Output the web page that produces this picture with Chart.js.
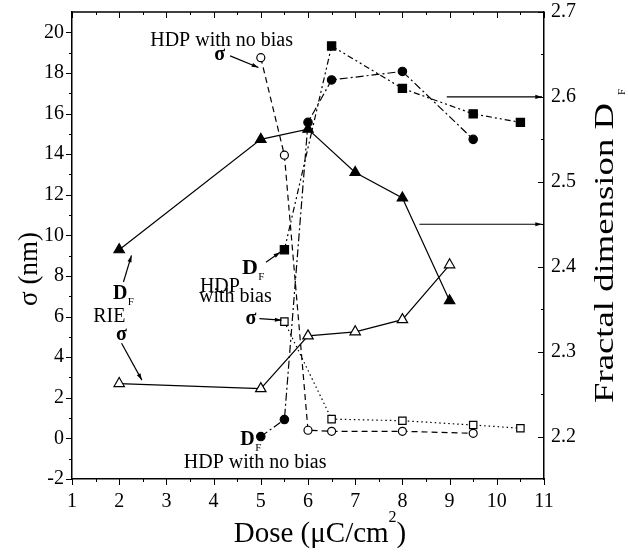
<!DOCTYPE html>
<html>
<head>
<meta charset="utf-8">
<script src="https://cdn.jsdelivr.net/npm/chart.js@4.4.0/dist/chart.umd.min.js"></script>
<style>
  body { margin: 0; background: #fff; }
  #wrap { width: 628px; height: 553px; }
</style>
</head>
<body>
<div id="wrap"><canvas id="chart"></canvas></div>
<script>
// RIE
const DOSE_RIE = [2, 5, 6, 7, 8, 9];
const RIE_SIGMA = [2.7, 2.45, 5.05, 5.25, 5.85, 8.55];
const RIE_DF = [2.42, 2.55, 2.562, 2.511, 2.481, 2.36];

// HDP with no bias
const DOSE_NOBIAS = [5, 5.5, 6, 6.5, 8, 9.5];
const NOBIAS_SIGMA = [18.75, 13.95, 0.4, 0.35, 0.35, 0.25];
const NOBIAS_DF = [2.2, 2.22, 2.57, 2.62, 2.63, 2.55];

// HDP with bias
const DOSE_BIAS = [5.5, 6.5, 8, 9.5, 10.5];
const BIAS_SIGMA = [5.75, 0.95, 0.87, 0.66, 0.5];
const BIAS_DF = [2.42, 2.66, 2.61, 2.58, 2.57];

// tick labels
const X_TICKS = [1, 2, 3, 4, 5, 6, 7, 8, 9, 10, 11];
const SIGMA_TICKS = [-2, 0, 2, 4, 6, 8, 10, 12, 14, 16, 18, 20];
const DF_TICKS = [2.2, 2.3, 2.4, 2.5, 2.6, 2.7];

const SERIF = '"Liberation Serif", "Times New Roman", serif';

function pts(xs, ys) {
  return xs.map((x, i) => ({ x: x, y: ys[i] }));
}

function line(label, xs, ys, axis, shape, filled, radius, dash) {
  return {
    label: label,
    data: pts(xs, ys),
    yAxisID: axis,
    borderColor: '#000',
    borderWidth: 1.2,
    borderDash: dash,
    pointStyle: shape,
    pointRadius: radius,
    pointBorderWidth: 1.2,
    pointBackgroundColor: filled ? '#000' : '#fff',
    pointBorderColor: '#000',
    tension: 0
  };
}

function arrow(ctx, x1, y1, x2, y2) {
  ctx.beginPath();
  ctx.moveTo(x1, y1);
  ctx.lineTo(x2, y2);
  ctx.stroke();
  const ang = Math.atan2(y2 - y1, x2 - x1);
  const h = 7;
  ctx.beginPath();
  ctx.moveTo(x2, y2);
  ctx.lineTo(x2 - h * Math.cos(ang - 0.3), y2 - h * Math.sin(ang - 0.3));
  ctx.lineTo(x2 - h * Math.cos(ang + 0.3), y2 - h * Math.sin(ang + 0.3));
  ctx.closePath();
  ctx.fill();
}

// D with subscript F, centred on (cx, baseline)
function dF(ctx, cx, base, size) {
  ctx.font = 'bold ' + size + 'px ' + SERIF;
  ctx.textAlign = 'center';
  ctx.fillText('D', cx, base);
  ctx.font = '11px ' + SERIF;
  ctx.textAlign = 'left';
  ctx.fillText('F', cx + size * 0.38, base + 6);
}

// no extra top/bottom room for the end labels of the y axes
function fixY(width) {
  return s => {
    s.width = width;
    s.paddingTop = 0;
    s.paddingBottom = 0;
  };
}

const decor = {
  id: 'decor',
  afterDraw(chart) {
    const ctx = chart.ctx;
    const a = chart.chartArea;
    const x = chart.scales.x, y = chart.scales.y, y1 = chart.scales.y1;
    const px = v => x.getPixelForValue(v);
    const py = v => y.getPixelForValue(v);
    const pr = v => y1.getPixelForValue(v);

    ctx.save();
    ctx.strokeStyle = '#000';
    ctx.fillStyle = '#000';

    // frame top
    ctx.lineWidth = 1.5;
    ctx.beginPath();
    ctx.moveTo(a.left, a.top);
    ctx.lineTo(a.right, a.top);
    ctx.stroke();

    // ticks
    ctx.lineWidth = 1;
    ctx.beginPath();
    for (let v = 1; v <= 11.001; v += 0.5) {
      const len = Math.abs(v - Math.round(v)) < 0.01 ? 6 : 3;
      const xx = Math.round(px(v)) + 0.5;
      ctx.moveTo(xx, a.bottom); ctx.lineTo(xx, a.bottom + len);
      ctx.moveTo(xx, a.top); ctx.lineTo(xx, a.top + len);
    }
    for (let v = -2; v <= 20; v += 1) {
      const len = v % 2 === 0 ? 6 : 3;
      const yy = Math.round(py(v)) + 0.5;
      ctx.moveTo(a.left, yy); ctx.lineTo(a.left - len, yy);
    }
    for (let k = 44; k <= 54; k++) {
      const v = k / 20;
      const len = k % 2 === 0 ? 6 : 3;
      const yy = Math.round(pr(v)) + 0.5;
      ctx.moveTo(a.right, yy); ctx.lineTo(a.right - len, yy);
    }
    ctx.stroke();

    // arrows to the right axis
    ctx.lineWidth = 1.2;
    arrow(ctx, px(8.94), pr(2.6), a.right - 2, pr(2.6));
    arrow(ctx, px(8.36), pr(2.45), a.right - 2, pr(2.45));

    // HDP with no bias (top)
    ctx.textBaseline = 'alphabetic';
    ctx.font = '20px ' + SERIF;
    ctx.textAlign = 'center';
    ctx.fillText('HDP with no bias', px(4.17), py(19.33));
    ctx.font = 'bold 20px ' + SERIF;
    ctx.fillText('σ', px(4.13), py(18.65));
    arrow(ctx, px(4.35), py(18.84), px(4.95), py(18.27));

    // HDP with bias
    dF(ctx, px(4.77), py(8.1), 22);
    arrow(ctx, px(5.11), py(8.68), px(5.41), py(9.17));
    ctx.font = '20px ' + SERIF;
    ctx.textAlign = 'left';
    ctx.fillText('HDP', px(3.71), py(7.21));
    ctx.fillText('with bias', px(3.69), py(6.7));
    ctx.font = 'bold 20px ' + SERIF;
    ctx.textAlign = 'center';
    ctx.fillText('σ', px(4.79), py(5.65));
    arrow(ctx, px(4.97), py(5.9), px(5.44), py(5.82));

    // RIE
    dF(ctx, px(2.02), py(6.85), 20);
    arrow(ctx, px(2.09), py(7.7), px(2.26), py(9.01));
    ctx.font = '20px ' + SERIF;
    ctx.textAlign = 'center';
    ctx.fillText('RIE', px(1.79), py(5.73));
    ctx.font = 'bold 20px ' + SERIF;
    ctx.fillText('σ', px(2.05), py(4.85));
    arrow(ctx, px(2.05), py(4.69), px(2.48), py(2.87));

    // HDP with no bias (bottom)
    dF(ctx, px(4.72), py(-0.33), 20);
    ctx.font = '20px ' + SERIF;
    ctx.textAlign = 'center';
    ctx.fillText('HDP with no bias', px(4.88), py(-1.45));

    // axis titles
    const t1 = 'Dose (\u03bcC/cm', t2 = ')';
    ctx.font = '29px ' + SERIF;
    const w1 = ctx.measureText(t1).width, w3 = ctx.measureText(t2).width;
    ctx.font = '16px ' + SERIF;
    const w2 = ctx.measureText('2').width;
    const sx = 320 - (w1 + w2 + w3) / 2;
    ctx.textAlign = 'left';
    ctx.font = '29px ' + SERIF;
    ctx.fillText(t1, sx, 542);
    ctx.font = '16px ' + SERIF;
    ctx.fillText('2', sx + w1, 522);
    ctx.font = '29px ' + SERIF;
    ctx.fillText(t2, sx + w1 + w2, 542);

    ctx.save();
    ctx.translate(37, 269);
    ctx.rotate(-Math.PI / 2);
    ctx.font = '27px ' + SERIF;
    ctx.textAlign = 'center';
    ctx.fillText('σ (nm)', 0, 0);
    ctx.restore();

    ctx.save();
    ctx.translate(613, 253);
    ctx.rotate(-Math.PI / 2);
    ctx.font = '28px ' + SERIF;
    const tr = 'Fractal dimension D';
    const wr = ctx.measureText(tr).width;
    ctx.save();
    ctx.scale(300 / wr, 1);
    ctx.textAlign = 'center';
    ctx.fillText(tr, 0, 0);
    ctx.restore();
    ctx.font = '11px ' + SERIF;
    ctx.textAlign = 'left';
    ctx.fillText('F', 158, 12);
    ctx.restore();

    ctx.restore();
  }
};

const tickFont = { family: SERIF, size: 20 };

new Chart(document.getElementById('chart'), {
  type: 'line',
  data: {
    datasets: [
      line('RIE sigma', DOSE_RIE, RIE_SIGMA, 'y', 'triangle', false, 6, []),
      line('RIE DF', DOSE_RIE, RIE_DF, 'y1', 'triangle', true, 6, []),
      line('HDP no bias sigma', DOSE_NOBIAS, NOBIAS_SIGMA, 'y', 'circle', false, 4, [6, 4]),
      line('HDP no bias DF', DOSE_NOBIAS, NOBIAS_DF, 'y1', 'circle', true, 4.2, [8, 3, 2, 3]),
      line('HDP bias sigma', DOSE_BIAS, BIAS_SIGMA, 'y', 'rect', false, 5.2, [1.5, 3]),
      line('HDP bias DF', DOSE_BIAS, BIAS_DF, 'y1', 'rect', true, 5.8, [6, 3, 2, 3, 2, 3])
    ]
  },
  options: {
    animation: false,
    responsive: true,
    maintainAspectRatio: false,
    events: [],
    layout: { padding: { top: 12, left: 0, right: 0, bottom: 0 } },
    plugins: {
      legend: { display: false },
      tooltip: { enabled: false }
    },
    scales: {
      x: {
        type: 'linear',
        position: 'bottom',
        min: 1,
        max: 11,
        afterBuildTicks: s => { s.ticks = X_TICKS.map(v => ({ value: v })); },
        afterFit: s => { s.height = 74; s.paddingLeft = 0; s.paddingRight = 0; },
        grid: { display: false, drawTicks: false },
        border: { display: true, color: '#000', width: 1.5 },
        ticks: { font: tickFont, color: '#000', padding: 11, maxRotation: 0 }
      },
      y: {
        type: 'linear',
        position: 'left',
        min: -2,
        max: 21,
        afterBuildTicks: s => { s.ticks = SIGMA_TICKS.map(v => ({ value: v })); },
        afterFit: fixY(72),
        grid: { display: false, drawTicks: false },
        border: { display: true, color: '#000', width: 1.5 },
        ticks: { font: tickFont, color: '#000', padding: 8 }
      },
      y1: {
        type: 'linear',
        position: 'right',
        min: 2.15,
        max: 2.7,
        afterBuildTicks: s => { s.ticks = DF_TICKS.map(v => ({ value: v })); },
        afterFit: fixY(84),
        grid: { display: false, drawTicks: false },
        border: { display: true, color: '#000', width: 1.5 },
        ticks: { font: tickFont, color: '#000', padding: 7, callback: v => v.toFixed(1) }
      }
    }
  },
  plugins: [decor]
});
</script>
</body>
</html>
